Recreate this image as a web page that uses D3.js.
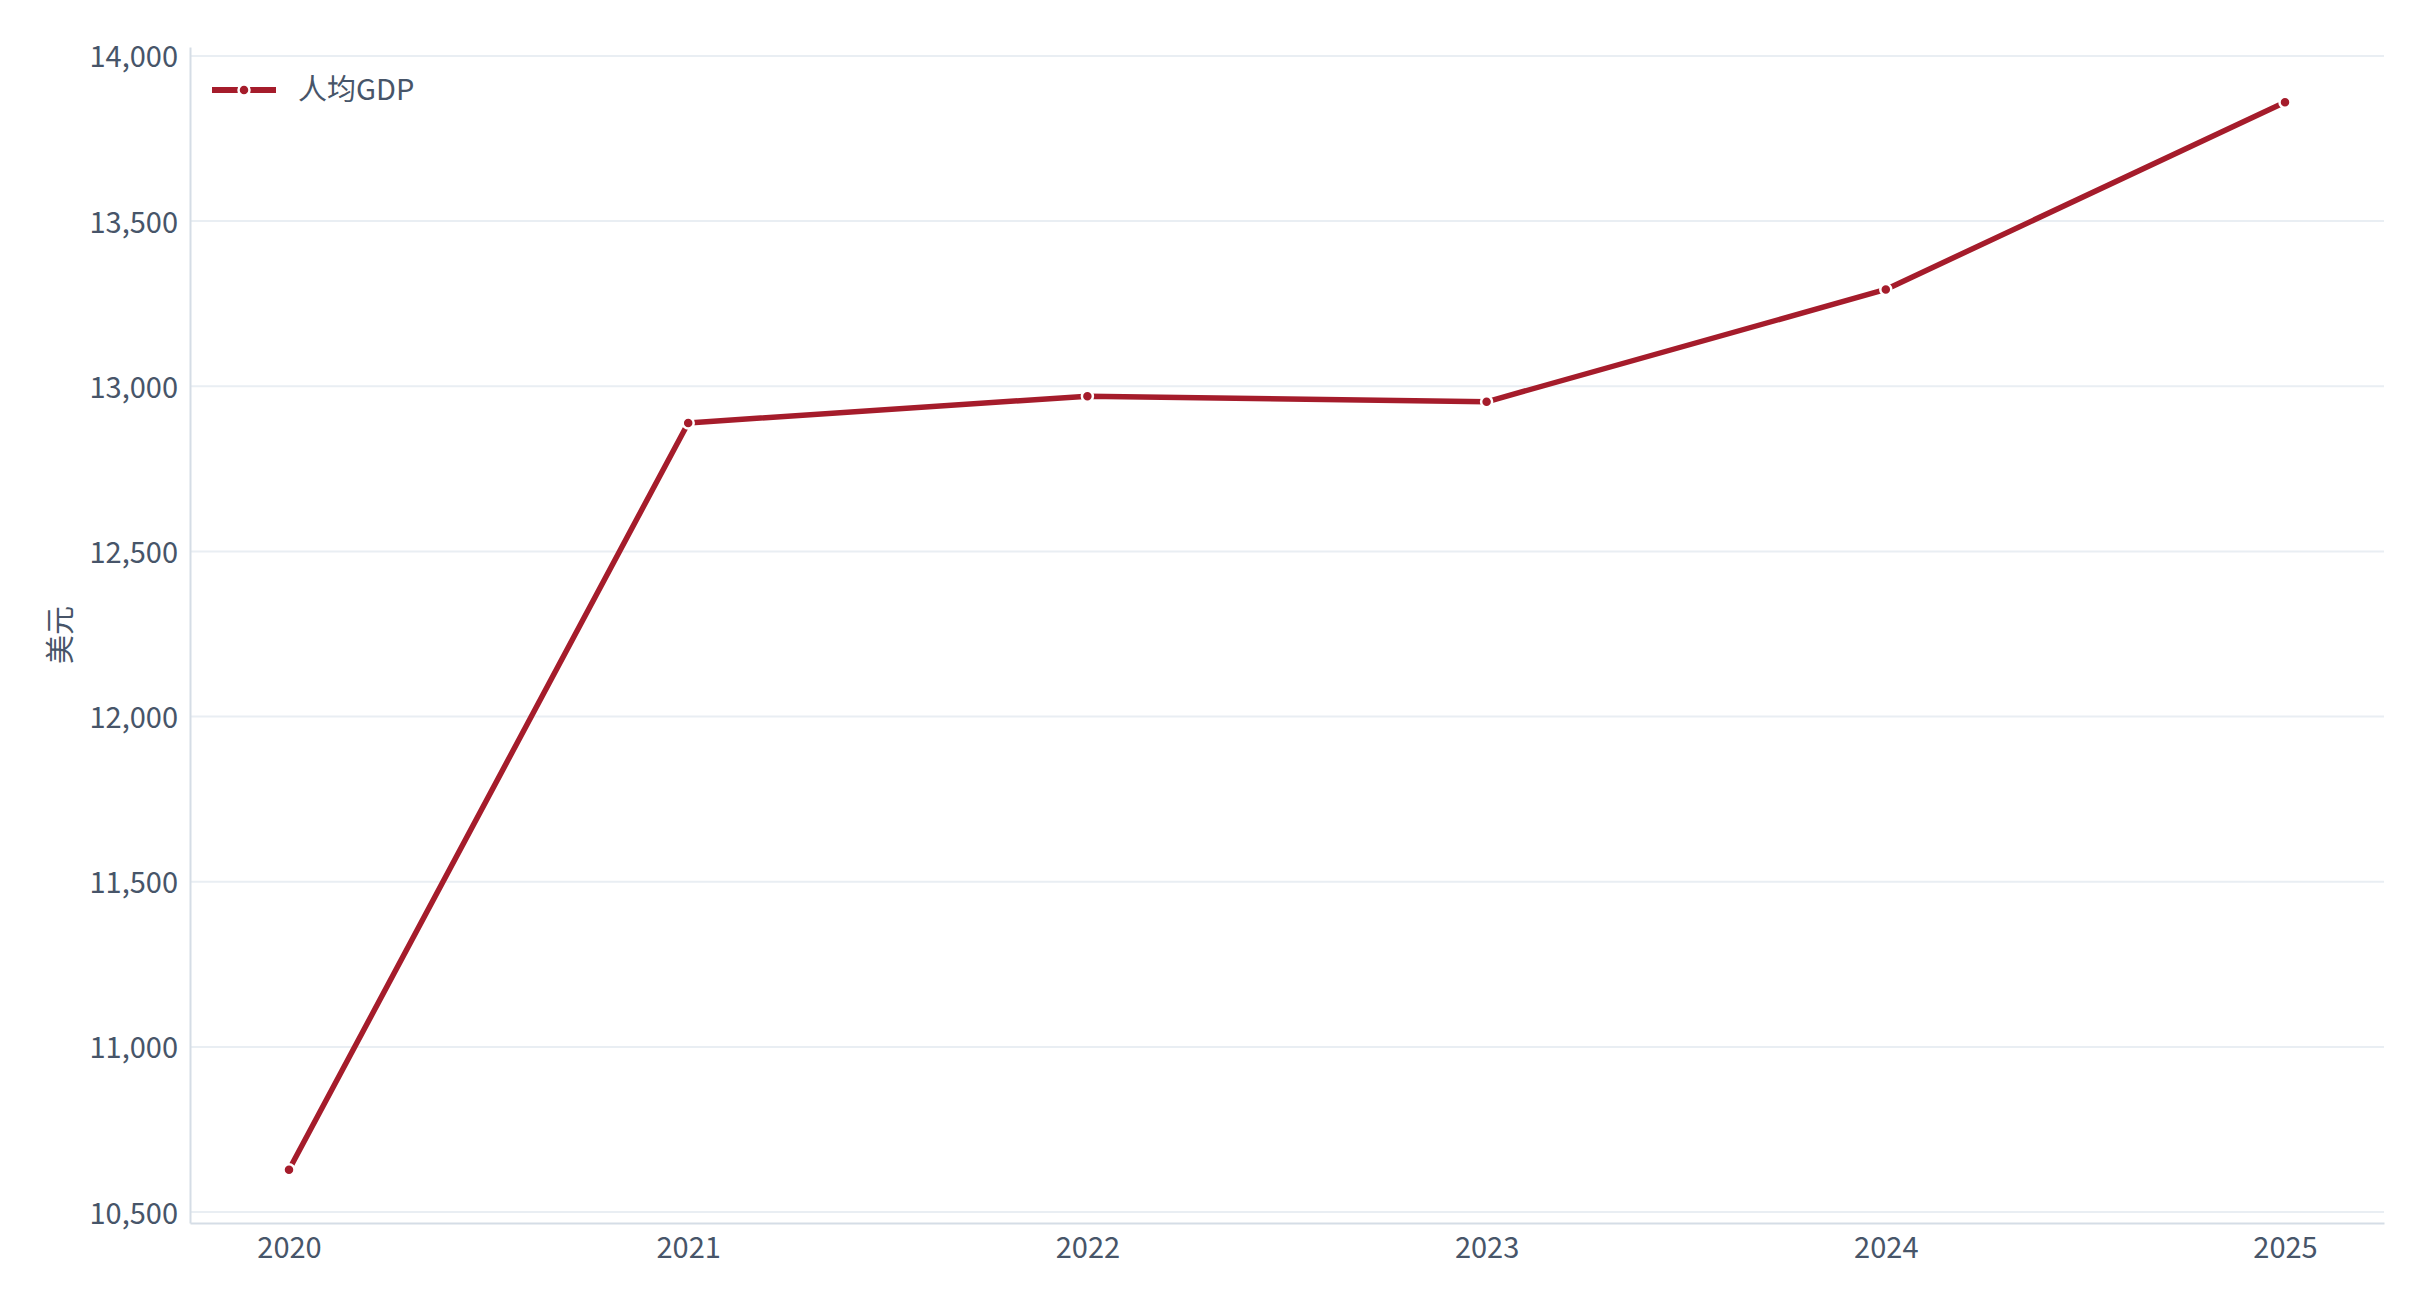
<!DOCTYPE html>
<html>
<head>
<meta charset="utf-8">
<script src="https://cdn.jsdelivr.net/npm/d3@7"></script>
<style>
  html, body { margin: 0; padding: 0; background: #fff; overflow: hidden; }
  svg { display: block; }
  svg text { font-family: "Noto Sans CJK SC", "Noto Sans", sans-serif; fill: #475569; }
</style>
</head>
<body>
<div id="chart"></div>
<script>
// data
const years = ["2020", "2021", "2022", "2023", "2024", "2025"];
const gdpPerCapita = [10628, 12889, 12970, 12953, 13293, 13860];
const yTicks = [10500, 11000, 11500, 12000, 12500, 13000, 13500, 14000];
const seriesName = "人均GDP";
const yTitle = "美元";

const width = 2428, height = 1306;
const margin = {top: 47, right: 44, bottom: 83, left: 190};
const innerWidth = width - margin.left - margin.right;
const innerHeight = height - margin.top - margin.bottom;
const color = "#a51c2b";

let svg = d3.select("#chart").append("svg")
  .attr("width", width)
  .attr("height", height);

let g = svg.append("g")
  .attr("transform", "translate(" + margin.left + "," + margin.top + ")");

// scales
let xScale = d3.scalePoint()
  .domain(years)
  .range([0, innerWidth])
  .padding(0.248);

let yScale = d3.scaleLinear()
  .domain([10467, 14027])
  .range([innerHeight, 0]);

// gridlines
g.append("g")
  .selectAll("line")
  .data(yTicks)
  .join("line")
  .attr("x1", 0)
  .attr("x2", innerWidth)
  .attr("y1", d => yScale(d))
  .attr("y2", d => yScale(d))
  .attr("stroke", "#e9eef3")
  .attr("stroke-width", 2);

// y axis
let yAxis = d3.axisLeft(yScale)
  .tickValues(yTicks)
  .tickFormat(d3.format(","))
  .tickSize(0)
  .tickPadding(12);

g.append("g")
  .attr("class", "y-axis")
  .call(yAxis)
  .call(s => s.select(".domain").attr("stroke", "#d5dde6").attr("stroke-width", 2))
  .selectAll("text")
  .attr("font-size", 29)
  .attr("dy", "0.38em");

// x axis
let xAxis = d3.axisBottom(xScale)
  .tickSize(0)
  .tickPadding(14);

g.append("g")
  .attr("class", "x-axis")
  .attr("transform", "translate(0," + innerHeight + ")")
  .call(xAxis)
  .call(s => s.select(".domain").attr("stroke", "#d5dde6").attr("stroke-width", 2))
  .selectAll("text")
  .attr("font-size", 29);

g.selectAll(".y-axis text, .x-axis text").attr("fill", "#475569");

// y axis title
svg.append("text")
  .attr("transform", "translate(58," + (margin.top + innerHeight / 2) + ") rotate(-90)")
  .attr("text-anchor", "middle")
  .attr("dominant-baseline", "central")
  .attr("font-size", 29)
  .text(yTitle);

// line
const data = years.map((y, i) => ({year: y, value: gdpPerCapita[i]}));

let line = d3.line()
  .x(d => xScale(d.year))
  .y(d => yScale(d.value));

g.append("path")
  .datum(data)
  .attr("fill", "none")
  .attr("stroke", color)
  .attr("stroke-width", 5.5)
  .attr("stroke-linejoin", "round")
  .attr("d", line);

g.append("g")
  .selectAll("circle")
  .data(data)
  .join("circle")
  .attr("cx", d => xScale(d.year))
  .attr("cy", d => yScale(d.value))
  .attr("r", 5.5)
  .attr("fill", color)
  .attr("stroke", "#fff")
  .attr("stroke-width", 2.5);

// legend
let legend = svg.append("g").attr("transform", "translate(212,90)");
legend.append("line")
  .attr("x1", 0).attr("x2", 64)
  .attr("stroke", color)
  .attr("stroke-width", 6);
legend.append("circle")
  .attr("cx", 32).attr("r", 5.5)
  .attr("fill", color)
  .attr("stroke", "#fff")
  .attr("stroke-width", 2.5);
legend.append("text")
  .attr("x", 86)
  .attr("dy", "0.35em")
  .attr("font-size", 29)
  .text(seriesName);
</script>
</body>
</html>
